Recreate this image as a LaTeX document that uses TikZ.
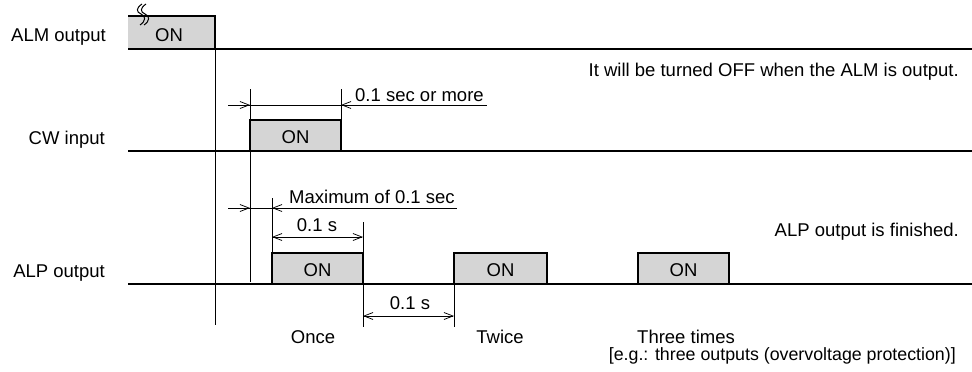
\documentclass[tikz,border=0pt]{standalone}
\usepackage{fontspec}
\setmainfont{Liberation Sans}
\usetikzlibrary{arrows.meta}
\begin{document}
\begin{tikzpicture}[x=1pt,y=-1pt,
  sig/.style={line width=1.7pt},
  pulsefill/.style={fill=gray!33},
  thinline/.style={line width=0.75pt},
  bt/.tip={Straight Barb[length=9pt,width=7pt]},
  lbl/.style={font=\fontsize{18.5}{21}\selectfont, inner sep=0pt},
]
\useasboundingbox[fill=white] (0,0) rectangle (972,372);

% ---------- ALM output ----------
\coordinate (almL) at (128,49);
\coordinate (almR) at (972,49);
\fill[pulsefill] (128,16) rectangle (215,49);
\draw[sig] (128,16) -- (215,16) -- (215,49);
\draw[sig] (almL) -- (almR);
\draw[line width=1pt] (142,4) .. controls (136,8) and (136,12) .. (141,14) .. controls (146,16) and (146,21) .. (140,25);
\draw[line width=1pt] (146,4) .. controls (140,8) and (140,12) .. (145,14) .. controls (150,16) and (150,21) .. (144,25);
\node[lbl] (alm) at (169,35) {ON};
\node[lbl, anchor=east] (almlabel) at (106,37) {ALM output};
\node[lbl, anchor=east] (offnote) at (959,72) {It will be turned OFF when the ALM is output.};

% long vertical references
\coordinate (v1t) at (215,49);
\coordinate (v1b) at (215,325);
\draw[thinline] (v1t) -- (v1b);
\coordinate (v2t) at (250,89);
\coordinate (v2b) at (250,282);
\draw[thinline] (v2t) -- (v2b);

% ---------- CW input ----------
\coordinate (cwL) at (128,151);
\coordinate (cwR) at (972,151);
\fill[pulsefill] (250,120) rectangle (341,151);
\draw[sig] (250,151) -- (250,120) -- (341,120) -- (341,151);
\draw[sig] (cwL) -- (cwR);
\node[lbl] (cw) at (295.5,137) {ON};
\node[lbl, anchor=east] (cwlabel) at (105,140) {CW input};
% dimension 0.1 sec or more
\coordinate (t1t) at (341,89);
\coordinate (t1b) at (341,120);
\draw[thinline] (t1t) -- (t1b);
\coordinate (d1a) at (228,105);
\coordinate (d1b) at (250,105);
\coordinate (d1c) at (341,105);
\coordinate (d1d) at (487,105);
\draw[thinline] (d1a) -- (d1d);
\draw[thinline, -{bt}] (d1a) -- (d1b);
\draw[thinline, -{bt}] (362,105) -- (d1c);
\node[lbl, anchor=base west] (more) at (355,101) {0.1 sec or more};

% ---------- ALP output ----------
\coordinate (alpL) at (128,284);
\coordinate (alpR) at (972,284);
\foreach \a/\b/\n in {272/363/p1, 454/547/p2, 638/729/p3}{
  \fill[pulsefill] (\a,253) rectangle (\b,284);
  \draw[sig] (\a,284) -- (\a,253) -- (\b,253) -- (\b,284);
  \node[lbl] (\n) at ({(\a+\b)/2},270) {ON};
}
\draw[sig] (alpL) -- (alpR);
\node[lbl, anchor=east] (alplabel) at (105,273) {ALP output};
\node[lbl, anchor=east] (finished) at (959,232) {ALP output is finished.};

% Maximum of 0.1 sec
\coordinate (t2t) at (272,198);
\coordinate (t2b) at (272,253);
\draw[thinline] (t2t) -- (t2b);
\coordinate (d2a) at (228,208);
\coordinate (d2b) at (250,208);
\coordinate (d2c) at (272,208);
\coordinate (d2d) at (457,208);
\draw[thinline] (d2a) -- (d2d);
\draw[thinline, -{bt}] (d2a) -- (d2b);
\draw[thinline, -{bt}] (292,208) -- (d2c);
\node[lbl, anchor=base west] (maxlbl) at (289,203) {Maximum of 0.1 sec};

% 0.1 s (pulse width)
\coordinate (t3t) at (363,222);
\coordinate (t3b) at (363,253);
\draw[thinline] (t3t) -- (t3b);
\coordinate (d3a) at (272,237);
\coordinate (d3b) at (363,237);
\draw[thinline, {bt}-{bt}] (d3a) -- (d3b);
\node[lbl] (w1) at (317,225) {0.1 s};

% 0.1 s (gap)
\coordinate (t4at) at (363,284);
\coordinate (t4ab) at (363,327);
\coordinate (t4bt) at (454,284);
\coordinate (t4bb) at (454,327);
\draw[thinline] (t4at) -- (t4ab);
\draw[thinline] (t4bt) -- (t4bb);
\coordinate (d4a) at (363,316);
\coordinate (d4b) at (454,316);
\draw[thinline, {bt}-{bt}] (d4a) -- (d4b);
\node[lbl] (w2) at (410,303) {0.1 s};

% counts
\node[lbl] (once) at (313,337) {Once};
\node[lbl] (twice) at (500,337) {Twice};
\node[lbl, anchor=west] (three) at (637,337) {Three times};
\node[lbl, anchor=east, font=\fontsize{17.8}{21}\selectfont] (eg) at (956,356) {[e.g.: three outputs (overvoltage protection)]};
\end{tikzpicture}
\end{document}
